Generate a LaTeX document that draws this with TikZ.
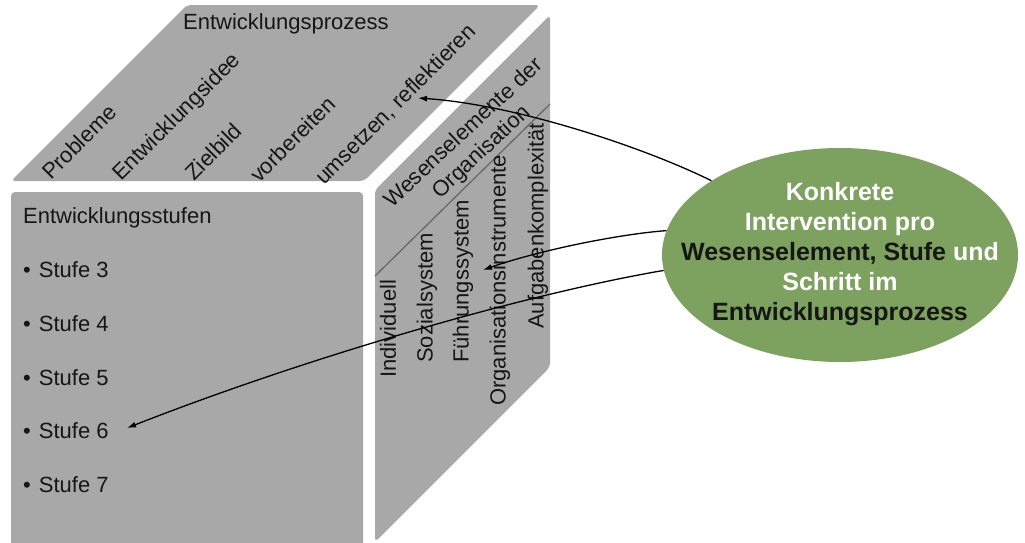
\documentclass[tikz,border=0pt]{standalone}
\usepackage{fontspec}
\setmainfont{Liberation Sans}
\usetikzlibrary{arrows.meta,shapes.geometric}
\definecolor{facegray}{RGB}{168,168,168}
\definecolor{divgray}{RGB}{105,105,105}
\definecolor{ovalgreen}{RGB}{125,162,96}
\definecolor{ink}{RGB}{22,22,22}
\begin{document}
\begin{tikzpicture}[x=1pt,y=-1pt,
  face/.style={fill=facegray, rounded corners=4pt},
  lbl/.style={inner sep=0pt, text=ink, font=\fontsize{22}{26}\selectfont},
  conn/.style={line width=1.3pt, draw=black, -{Latex[length=9pt,width=6pt]}}]
\clip (0,0) rectangle (1025,542);
\fill[white] (0,0) rectangle (1025,542);
% faces
\path[face] (187,5) -- (540,5) -- (364,181) -- (11,181) -- cycle;
\path[face] (11,192) -- (363,192) -- (363,600) -- (11,600) -- cycle;
\path[face] (375,190) -- (550,15) -- (550,367) -- (375,542) -- cycle;
\draw[divgray, line width=1.3pt] (375,276) -- (550,104);
% top face labels
\node[lbl, anchor=base west] (prozess) at (183,29) {Entwicklungsprozess};
\node[lbl, rotate=45, anchor=base west] (probleme) at (51,181) {Probleme};
\node[lbl, rotate=45, anchor=base west] (idee) at (121,182) {Entwicklungsidee};
\node[lbl, rotate=45, anchor=base west] (zielbild) at (194,182) {Zielbild};
\node[lbl, rotate=45, anchor=base west] (vorbereiten) at (259,184) {vorbereiten};
\node[lbl, rotate=45, anchor=base west] (umsetzen) at (324,186) {umsetzen, reflektieren};
% front face labels
\node[lbl, anchor=base west] (stufen) at (23,223) {Entwicklungsstufen};
\node[lbl, anchor=west] (s3) at (23,270) {•\hspace{8pt}Stufe 3};
\node[lbl, anchor=west] (s4) at (23,324) {•\hspace{8pt}Stufe 4};
\node[lbl, anchor=west] (s5) at (23,378) {•\hspace{8pt}Stufe 5};
\node[lbl, anchor=west] (s6) at (23,431) {•\hspace{8pt}Stufe 6};
\node[lbl, anchor=west] (s7) at (23,485) {•\hspace{8pt}Stufe 7};
% right face labels
\node[lbl, rotate=43, align=center] (wesen) at (473,143) {Wesenselemente der\\Organisation};
\node[lbl, rotate=90, anchor=west] (indiv) at (388,378) {Individuell};
\node[lbl, rotate=90, anchor=west] (sozial) at (427,363) {Sozialsystem};
\node[lbl, rotate=90, anchor=west] (fuehrung) at (463,363) {Führungssystem};
\node[lbl, rotate=90, anchor=west] (orgins) at (500,406) {Organisationsinstrumente};
\node[lbl, rotate=90, anchor=west] (aufgabe) at (538,329) {Aufgabenkomplexität};
% oval
\node[ellipse, fill=ovalgreen, minimum width=356pt, minimum height=214pt, inner sep=0pt] (oval) at (840,255) {};
\node[inner sep=0pt, align=center, text=ink, font=\bfseries\fontsize{25}{30}\selectfont] (ovaltext) at (840,254)
  {\textcolor{white}{Konkrete}\\\textcolor{white}{Intervention pro}\\Wesenselement, Stufe \textcolor{white}{und}\\\textcolor{white}{Schritt im}\\Entwicklungsprozess};
% arrow tips
\coordinate (tipA) at (418,98);
\coordinate (tipB) at (483,270);
\coordinate (tipC) at (127,428);
\draw[conn] (oval.150.7) .. controls (650,150) and (520,105) .. (tipA);
\draw[conn] (oval.172.9) .. controls (620,234) and (540,250) .. (tipB);
\draw[conn] (oval.185.8) .. controls (520,295) and (300,360) .. (tipC);
\end{tikzpicture}
\end{document}
